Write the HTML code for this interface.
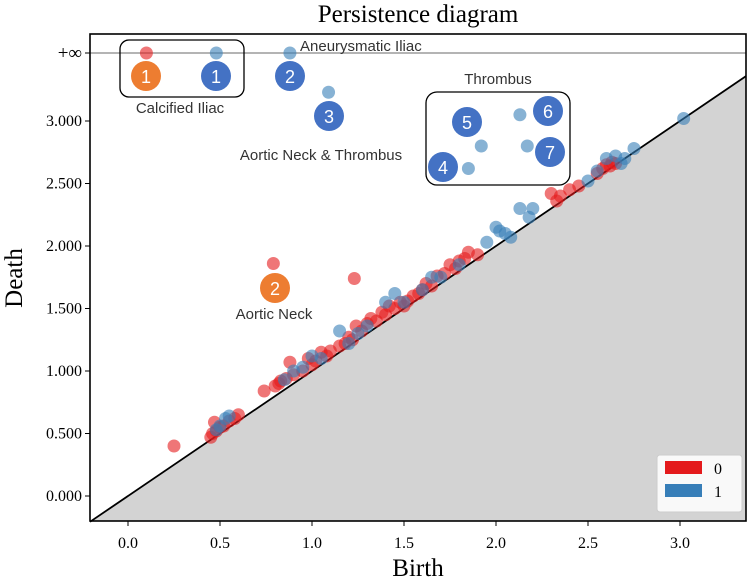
<!DOCTYPE html>
<html><head><meta charset="utf-8"><style>
body{margin:0;background:#fff}
svg text{font-family:"Liberation Serif",serif}
svg text.a{font-family:"Liberation Sans",sans-serif;font-size:15px;fill:#333}
svg text.m{font-family:"Liberation Sans",sans-serif;font-size:18px;fill:#fff}
</style></head><body>
<svg id="c" width="749" height="581" xmlns="http://www.w3.org/2000/svg"></svg>
<script>
const xTicks=[0,0.5,1,1.5,2,2.5,3];
const xTickLabels=["0.0","0.5","1.0","1.5","2.0","2.5","3.0"];
const yTicks=[0,0.5,1,1.5,2,2.5,3];
const yTickLabels=["0.000","0.500","1.000","1.500","2.000","2.500","3.000"];
const infBirth0=[0.10];
const infBirth1=[0.48,0.88];
const dim0=[[0.45,0.47],[0.46,0.50],[0.48,0.52],[0.47,0.59],[0.50,0.55],[0.52,0.56],[0.55,0.60],[0.58,0.62],[0.60,0.65],[0.74,0.84],[0.80,0.88],[0.82,0.90],[0.83,0.92],[0.86,0.94],[0.88,1.07],[0.90,0.97],[0.95,1.00],[0.98,1.10],[1.00,1.05],[1.02,1.08],[1.05,1.15],[1.08,1.12],[1.10,1.16],[1.15,1.20],[1.18,1.22],[1.20,1.27],[1.22,1.25],[1.24,1.36],[1.27,1.32],[1.30,1.38],[1.32,1.42],[1.35,1.40],[1.38,1.47],[1.40,1.45],[1.42,1.52],[1.45,1.50],[1.48,1.55],[1.50,1.52],[1.52,1.56],[1.55,1.60],[1.58,1.62],[1.60,1.65],[1.62,1.70],[1.65,1.68],[1.68,1.76],[1.72,1.78],[1.75,1.85],[1.78,1.82],[1.80,1.88],[1.83,1.90],[1.85,1.95],[1.90,1.93],[2.30,2.42],[2.33,2.36],[2.35,2.40],[2.40,2.45],[2.45,2.48],[2.55,2.58],[2.58,2.62],[2.60,2.65],[2.62,2.64],[2.63,2.67],[2.65,2.66],[1.23,1.74],[0.79,1.86],[0.25,0.40]];
const dim1=[[0.50,0.56],[0.53,0.62],[0.55,0.64],[0.48,0.53],[0.85,0.93],[0.90,1.00],[0.95,1.03],[1.00,1.12],[1.05,1.10],[1.15,1.32],[1.20,1.22],[1.25,1.30],[1.30,1.36],[1.40,1.55],[1.45,1.62],[1.50,1.55],[1.60,1.65],[1.65,1.75],[1.70,1.75],[1.80,1.85],[1.95,2.03],[2.00,2.15],[2.02,2.12],[2.05,2.10],[2.08,2.07],[2.13,2.30],[2.20,2.30],[2.18,2.23],[2.50,2.52],[2.55,2.60],[2.60,2.70],[2.65,2.72],[2.68,2.66],[2.70,2.70],[2.75,2.78],[1.09,3.23],[1.85,2.62],[1.92,2.80],[2.13,3.05],[2.17,2.80],[3.02,3.02]];
const L=90,R=746,T=34,B=521,INF=53;
const xs=v=>128+v*184, ys=v=>496-v*125;
const xmin=(L-128)/184,xmax=(R-128)/184;
const svg=document.getElementById('c');const NS='http://www.w3.org/2000/svg';
function mk(t,a,p){const e=document.createElementNS(NS,t);for(const k in a)e.setAttribute(k,a[k]);(p||svg).appendChild(e);return e;}
let e;
e=mk('polygon',{points:`${xs(xmin)},${ys(xmin)} ${xs(xmax)},${ys(xmax)} ${R},${B} ${L},${B}`,fill:'#d3d3d3'});


e=mk('line',{x1:L,y1:INF,x2:R,y2:INF,stroke:'#888','stroke-width':1.3});


e=mk('line',{x1:xs(xmin),y1:ys(xmin),x2:xs(xmax),y2:ys(xmax),stroke:'#000','stroke-width':1.8});


function pt(x,y,c,n){const e=mk('circle',{cx:x,cy:y,r:6.5,fill:c,'fill-opacity':0.6});

}
dim0.forEach(d=>pt(xs(d[0]),ys(d[1]),'#e41a1c','point-dim0'));
dim1.forEach(d=>pt(xs(d[0]),ys(d[1]),'#377eb8','point-dim1'));
infBirth0.forEach(b=>pt(xs(b),INF,'#e41a1c','inf-point-dim0'));
infBirth1.forEach(b=>pt(xs(b),INF,'#377eb8','inf-point-dim1'));
e=mk('rect',{x:L,y:T,width:R-L,height:B-T,fill:'none',stroke:'#000','stroke-width':1.6});


xTicks.forEach((v,i)=>{mk('line',{x1:xs(v),y1:B,x2:xs(v),y2:B+5,stroke:'#000'});
const t=mk('text',{x:xs(v),y:B+27,'text-anchor':'middle','font-size':16});t.textContent=xTickLabels[i];

});
yTicks.forEach((v,i)=>{mk('line',{x1:L-5,y1:ys(v),x2:L,y2:ys(v),stroke:'#000'});
const t=mk('text',{x:L-8,y:ys(v)+5,'text-anchor':'end','font-size':16});t.textContent=yTickLabels[i];

});
mk('line',{x1:L-5,y1:INF,x2:L,y2:INF,stroke:'#000'});
e=mk('text',{x:L-8,y:INF+6,'text-anchor':'end','font-size':19});e.textContent='+∞';


</script>
<svg width="749" height="581" style="position:absolute;left:0;top:0">
<text x="418" y="22" text-anchor="middle" font-size="25">Persistence diagram</text>
<text x="418" y="576" text-anchor="middle" font-size="25">Birth</text>
<text transform="translate(22,278) rotate(-90)" text-anchor="middle" font-size="25">Death</text>
<rect x="120" y="40" width="124" height="57" rx="9" fill="none" stroke="#000" stroke-width="1.3"/>
<rect x="426" y="92" width="144" height="93" rx="11" fill="none" stroke="#000" stroke-width="1.3"/>
<g text-anchor="middle">
<circle cx="146" cy="76" r="15" fill="#ed7d31"/><text class="m" x="146" y="83">1</text>
<circle cx="216" cy="76" r="15" fill="#4472c4"/><text class="m" x="216" y="83">1</text>
<circle cx="290" cy="76" r="15" fill="#4472c4"/><text class="m" x="290" y="83">2</text>
<circle cx="329" cy="116" r="15" fill="#4472c4"/><text class="m" x="329" y="123">3</text>
<circle cx="467" cy="122" r="15" fill="#4472c4"/><text class="m" x="467" y="129">5</text>
<circle cx="548" cy="111" r="15" fill="#4472c4"/><text class="m" x="548" y="118">6</text>
<circle cx="550" cy="152" r="15" fill="#4472c4"/><text class="m" x="550" y="159">7</text>
<circle cx="443" cy="167" r="15" fill="#4472c4"/><text class="m" x="443" y="174">4</text>
<circle cx="275" cy="288" r="15" fill="#ed7d31"/><text class="m" x="275" y="295">2</text>
</g>
<text class="a" x="180" y="113" text-anchor="middle">Calcified Iliac</text>
<text class="a" x="300" y="51">Aneurysmatic Iliac</text>
<text class="a" x="498" y="84" text-anchor="middle">Thrombus</text>
<text class="a" x="321" y="160" text-anchor="middle">Aortic Neck &amp; Thrombus</text>
<text class="a" x="274" y="319" text-anchor="middle">Aortic Neck</text>
<g>
<rect x="657" y="455" width="85" height="57" rx="3" fill="#fff" fill-opacity="0.85" stroke="#ccc"/>
<rect x="665" y="461" width="37" height="13" fill="#e41a1c"/>
<text x="714" y="474" font-size="16">0</text>
<rect x="665" y="484" width="37" height="13" fill="#377eb8"/>
<text x="714" y="497" font-size="16">1</text>
</g>
</svg>
</body></html>
